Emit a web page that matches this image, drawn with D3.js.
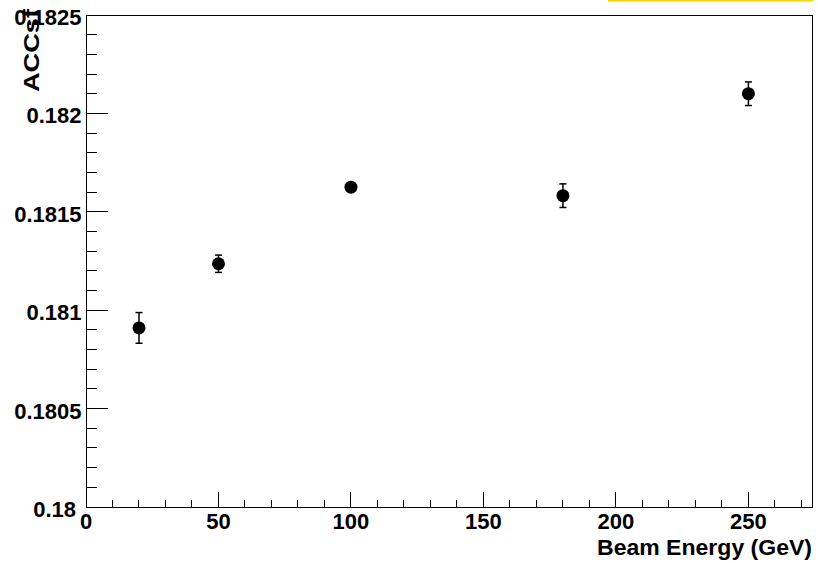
<!DOCTYPE html>
<html><head><meta charset="utf-8">
<script src="https://cdn.jsdelivr.net/npm/d3@7"></script>
<style>body{margin:0;background:#fff}svg{display:block}</style>
</head><body>
<script>
const energies = [20, 50, 100, 180, 250];
const accsf = [0.18091, 0.181236, 0.181625, 0.181582, 0.1821];
const errors = [0.000078, 0.000044, 0.00001, 0.00006, 0.00006];
const yTickLabels = ["0.18", "0.1805", "0.181", "0.1815", "0.182", "0.1825"];
const xTickLabels = ["0", "50", "100", "150", "200", "250"];

const W = 818, H = 563;
const L = 86, R = 812, T = 15, B = 507;
const font = "'Liberation Sans', Arial, Helvetica, sans-serif";
const fs = 22;

const svg = d3.select("body").append("svg").attr("width", W).attr("height", H);
const x = d3.scaleLinear().domain([0, 274]).range([L, R]);
const y = d3.scaleLinear().domain([0.18, 0.1825]).range([B, T]);

// yellow strip at top right
svg.append("rect").attr("x", 608).attr("y", 0).attr("width", 205).attr("height", 1.5).attr("fill", "#FFD200");

// frame
svg.append("rect").attr("x", L).attr("y", T).attr("width", R - L).attr("height", B - T)
  .attr("fill", "none").attr("stroke", "#000").attr("stroke-width", 1).attr("shape-rendering", "crispEdges");

// x ticks
const xMajor = xTickLabels.map(Number);
const xMinor = d3.range(0, 271, 10).filter(v => v % 50 !== 0);
const xMajLen = 15, xMinLen = 7.5;
svg.append("g").selectAll("line").data(xMajor).join("line")
  .attr("x1", d => x(d)).attr("x2", d => x(d)).attr("y1", B).attr("y2", B - xMajLen)
  .attr("stroke", "#000").attr("shape-rendering", "crispEdges");
svg.append("g").selectAll("line").data(xMinor).join("line")
  .attr("x1", d => x(d)).attr("x2", d => x(d)).attr("y1", B).attr("y2", B - xMinLen)
  .attr("stroke", "#000").attr("shape-rendering", "crispEdges");
svg.append("g").selectAll("text").data(xTickLabels).join("text")
  .attr("x", d => x(+d)).attr("y", 529).attr("text-anchor", "middle")
  .attr("font-family", font).attr("font-weight", "bold").attr("font-size", fs).text(d => d);

// y ticks
const yMajor = yTickLabels.map(Number);
const yMinor = d3.range(0, 26).map(i => 0.18 + i * 0.0001).filter((v, i) => i % 5 !== 0);
const yMajLen = 22, yMinLen = 11;
svg.append("g").selectAll("line").data(yMajor).join("line")
  .attr("x1", L).attr("x2", L + yMajLen).attr("y1", d => y(d)).attr("y2", d => y(d))
  .attr("stroke", "#000").attr("shape-rendering", "crispEdges");
svg.append("g").selectAll("line").data(yMinor).join("line")
  .attr("x1", L).attr("x2", L + yMinLen).attr("y1", d => y(d)).attr("y2", d => y(d))
  .attr("stroke", "#000").attr("shape-rendering", "crispEdges");
svg.append("g").selectAll("text").data(yTickLabels).join("text")
  .attr("x", (d, i) => i === 0 ? 76 : 81.5).attr("y", d => y(+d) + 10).attr("text-anchor", "end")
  .attr("font-family", font).attr("font-weight", "bold").attr("font-size", fs).text(d => d);

// axis titles
svg.append("text").attr("x", 597).attr("y", 555)
  .attr("textLength", 215).attr("lengthAdjust", "spacingAndGlyphs")
  .attr("font-family", font).attr("font-weight", "bold").attr("font-size", fs).text("Beam Energy (GeV)");
svg.append("text").attr("transform", "translate(38.5,92) rotate(-90)")
  .attr("textLength", 83).attr("lengthAdjust", "spacingAndGlyphs")
  .attr("font-family", font).attr("font-weight", "bold").attr("font-size", fs).text("ACCsf");

// data
const pts = energies.map((e, i) => ({e, v: accsf[i], err: errors[i]}));
const g = svg.append("g");
g.selectAll("line.err").data(pts).join("line").attr("class", "err")
  .attr("x1", d => x(d.e)).attr("x2", d => x(d.e))
  .attr("y1", d => y(d.v + d.err)).attr("y2", d => y(d.v - d.err))
  .attr("stroke", "#000").attr("stroke-width", 1.5);
g.selectAll("line.capt").data(pts).join("line").attr("class", "capt")
  .attr("x1", d => x(d.e) - 3.5).attr("x2", d => x(d.e) + 3.5)
  .attr("y1", d => y(d.v + d.err)).attr("y2", d => y(d.v + d.err))
  .attr("stroke", "#000").attr("stroke-width", 1.5);
g.selectAll("line.capb").data(pts).join("line").attr("class", "capb")
  .attr("x1", d => x(d.e) - 3.5).attr("x2", d => x(d.e) + 3.5)
  .attr("y1", d => y(d.v - d.err)).attr("y2", d => y(d.v - d.err))
  .attr("stroke", "#000").attr("stroke-width", 1.5);
g.selectAll("circle").data(pts).join("circle")
  .attr("cx", d => x(d.e)).attr("cy", d => y(d.v)).attr("r", 6.5).attr("fill", "#000");
</script>
</body></html>
